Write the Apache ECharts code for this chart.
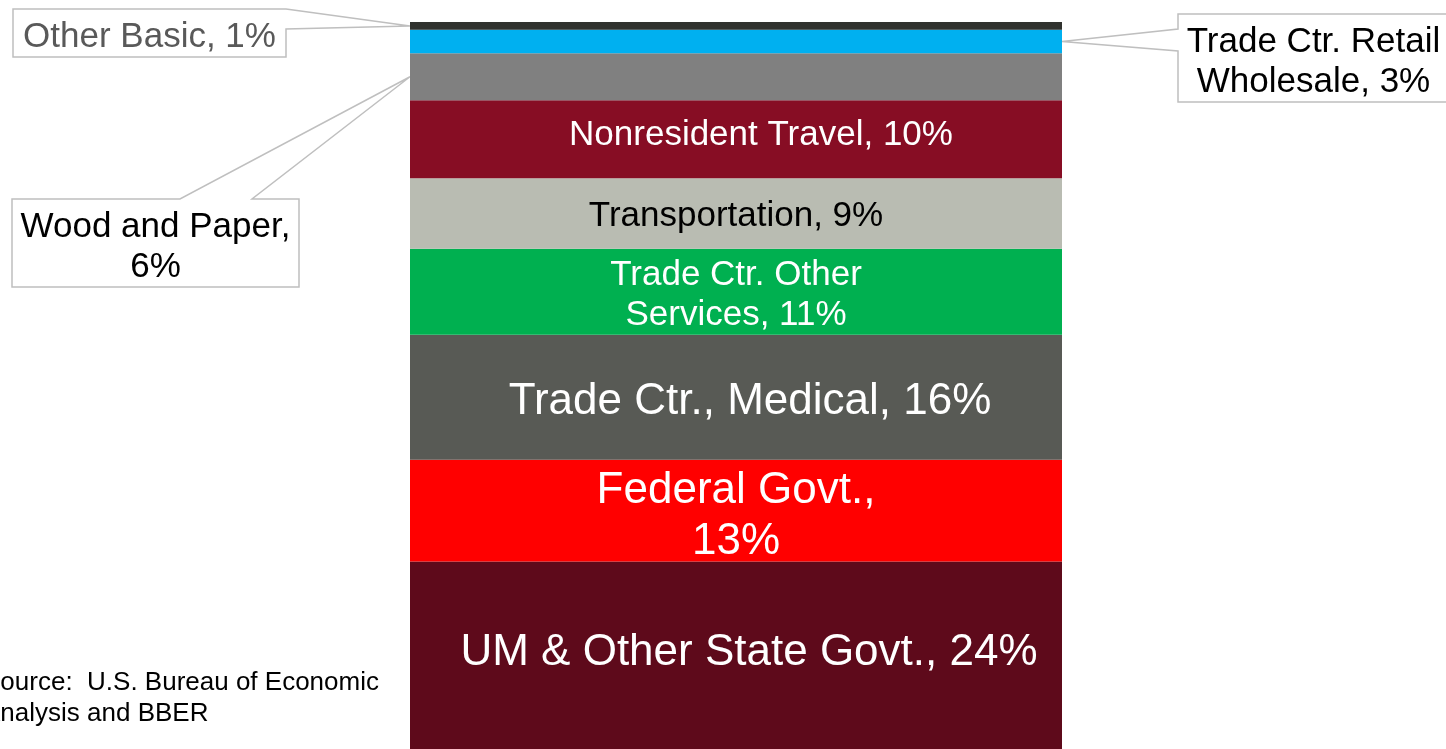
<!DOCTYPE html>
<html>
<head>
<meta charset="utf-8">
<title>Trade center shares</title>
<script src="https://cdn.jsdelivr.net/npm/echarts@6.0.0/dist/echarts.min.js"></script>
<style>
  html, body { margin: 0; padding: 0; background: #fff; overflow: hidden; }
  #main { width: 1446px; height: 749px; }
</style>
</head>
<body>
<div id="main"></div>
<script>
// stack segments, bottom to top (share in %)
const sectors = ['UM & Other State Govt.', 'Federal Govt.', 'Trade Ctr., Medical', 'Trade Ctr. Other Services',
  'Transportation', 'Nonresident Travel', 'Wood and Paper', 'Trade Ctr. Retail Wholesale', 'Other Basic']
const shares = [24, 13, 16, 11, 9, 10, 6, 3, 1]
const colors = ['#5e0a1b', '#ff0000', '#585a55', '#00b050', '#b9bcb2', '#870d24', '#808080', '#00b0f0', '#30322e']
// word after which the label wraps
const wrapAfter = [null, 'Govt.,', null, 'Other', null, null, 'Paper,', 'Retail', null]
const source = 'Source:  U.S. Bureau of Economic\nAnalysis and BBER'

const FONT = "'Liberation Sans', Arial, sans-serif"
const GRID_LEFT = 410
const GRID_RIGHT = 384
const W = 1446

function labelText(i) {
  let t = sectors[i] + ', ' + shares[i] + '%'
  if (wrapAfter[i]) t = t.replace(wrapAfter[i] + ' ', wrapAfter[i] + '\n')
  return t
}

// inside labels: size, color, offset   (null -> callout box instead)
const insideStyle = [
  { size: 44, color: '#fff', off: [13, -2] },
  { size: 44, color: '#fff', off: [0, 6] },
  { size: 44, color: '#fff', off: [14, 5] },
  { size: 35, color: '#fff', off: [0, 4] },
  { size: 35, color: '#000', off: [0, 3] },
  { size: 35, color: '#fff', off: [25, -4] },
  null, null, null
]

const series = sectors.map((name, i) => {
  const st = insideStyle[i]
  return {
    name: name,
    type: 'bar',
    stack: 'total',
    barWidth: '100%',
    silent: true,
    data: [shares[i]],
    itemStyle: { color: colors[i] },
    label: st ? {
      show: true,
      position: 'inside',
      formatter: labelText(i),
      color: st.color,
      fontFamily: FONT,
      fontSize: st.size,
      lineHeight: st.size === 44 ? 51 : 40,
      offset: st.off
    } : { show: false }
  }
})

const option = {
  animation: false,
  grid: { left: GRID_LEFT, right: GRID_RIGHT, top: 22, bottom: 0 },
  xAxis: { type: 'category', data: [''], show: false },
  yAxis: { type: 'value', min: 0, max: 93, show: false },
  series: series
}

const chart = echarts.init(document.getElementById('main'))
chart.setOption(option)

// callout boxes with a wedge pointing at the segment
const callouts = [
  { idx: 8, box: [13, 9, 273, 48], side: 'right', gap: [9, 29], color: '#595959' },
  { idx: 7, box: [1178, 14, 271, 88], side: 'left', gap: [29, 51], color: '#000' },
  { idx: 6, box: [12, 199, 287, 88], side: 'top', gap: [180, 252], color: '#000' }
]

const graphics = []
callouts.forEach(c => {
  let below = 0
  for (let k = 0; k < c.idx; k++) below += shares[k]
  const tipY = chart.convertToPixel({ yAxisIndex: 0 }, below + shares[c.idx] / 2)
  const [x, y, w, h] = c.box
  let pts
  if (c.side === 'right') {
    const tip = [GRID_LEFT, tipY]
    pts = [[x, y], [x + w, y], tip, [x + w, c.gap[1]], [x + w, y + h], [x, y + h]]
  } else if (c.side === 'left') {
    const tip = [W - GRID_RIGHT, tipY]
    pts = [[x, y], [x + w, y], [x + w, y + h], [x, y + h], [x, c.gap[1]], tip, [x, c.gap[0]]]
  } else {
    const tip = [GRID_LEFT, tipY]
    pts = [[x, y], [c.gap[0], y], tip, [c.gap[1], y], [x + w, y], [x + w, y + h], [x, y + h]]
  }
  graphics.push({
    type: 'polygon',
    silent: true,
    shape: { points: pts },
    style: { fill: '#fff', stroke: '#bfbfbf', lineWidth: 1.5 }
  })
  graphics.push({
    type: 'text',
    silent: true,
    x: x + w / 2,
    y: y + h / 2 + 4,
    style: {
      text: labelText(c.idx),
      fill: c.color,
      fontFamily: FONT,
      fontSize: 35,
      lineHeight: 40,
      align: 'center',
      verticalAlign: 'middle',
      textAlign: 'center',
      textVerticalAlign: 'middle'
    }
  })
})

graphics.push({
  type: 'text',
  silent: true,
  x: -17,
  y: 698,
  style: {
    text: source,
    fill: '#000',
    fontFamily: FONT,
    fontSize: 26,
    lineHeight: 31,
    align: 'left',
    verticalAlign: 'middle',
    textAlign: 'left',
    textVerticalAlign: 'middle'
  }
})

chart.setOption({ graphic: graphics })
</script>
</body>
</html>
